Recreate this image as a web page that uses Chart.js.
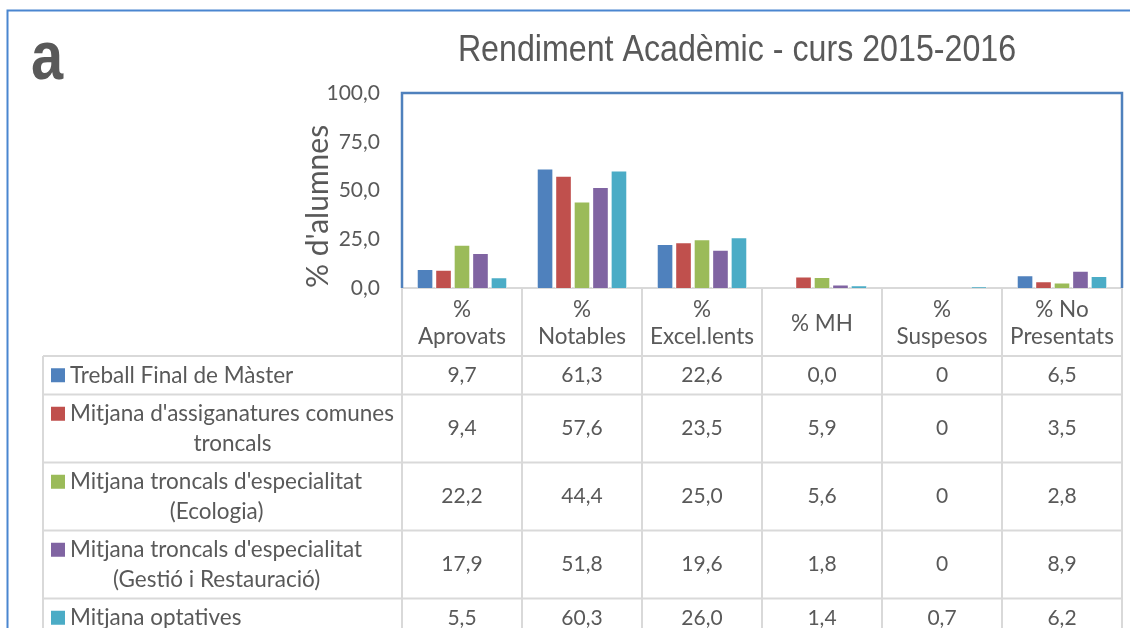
<!DOCTYPE html>
<html>
<head>
    <meta charset="utf-8">
    <title>Rendiment Acadèmic - curs 2015-2016</title>
    <script src="https://cdn.jsdelivr.net/npm/chart.js"></script>
    <style>
        html, body {
            margin: 0;
            padding: 0;
            background: #fff;
        }
    </style>
</head>
<body>
    <canvas id="rendimentChart" width="1130" height="628"></canvas>

    <script>
        const categories = [['%', 'Aprovats'], ['%', 'Notables'], ['%', 'Excel.lents'], ['% MH'], ['%', 'Suspesos'], ['% No', 'Presentats']];
        const seriesNames = [
            'Treball Final de Màster',
            "Mitjana d'assiganatures comunes troncals",
            "Mitjana troncals d'especialitat (Ecologia)",
            "Mitjana troncals d'especialitat (Gestió i Restauració)",
            'Mitjana optatives'
        ];
        const treballFinal = [9.7, 61.3, 22.6, 0.0, 0, 6.5];
        const comunesTroncals = [9.4, 57.6, 23.5, 5.9, 0, 3.5];
        const troncalsEcologia = [22.2, 44.4, 25.0, 5.6, 0, 2.8];
        const troncalsGestio = [17.9, 51.8, 19.6, 1.8, 0, 8.9];
        const optatives = [5.5, 60.3, 26.0, 1.4, 0.7, 6.2];
        const yTicks = [0, 25, 50, 75, 100];
        // decimals shown in the table per column (null = general format)
        const tableDecimals = [1, 1, 1, 1, null, 1];

        const seriesValues = [treballFinal, comunesTroncals, troncalsEcologia, troncalsGestio, optatives];
        const seriesColors = ['#4F81BD', '#C0504D', '#9BBB59', '#8064A2', '#4BACC6'];

        const textColor = '#595959';
        const labelFont = '22.5px Lato, "Open Sans", sans-serif';
        const numberFont = '21px Lato, "Open Sans", sans-serif';

        function fmt(v, col) {
            const d = tableDecimals[col];
            const s = d === null ? String(v) : v.toFixed(d);
            return s.replace('.', ',');
        }

        function wrapText(ctx, text, maxWidth) {
            const words = text.split(' ');
            const lines = [];
            let line = '';
            words.forEach(w => {
                const test = line ? line + ' ' + w : w;
                if (line && ctx.measureText(test).width > maxWidth) {
                    lines.push(line);
                    line = w;
                } else {
                    line = test;
                }
            });
            if (line) lines.push(line);
            return lines;
        }

        // Title, frames and the data table under the plot
        const tablePlugin = {
            id: 'dataTable',
            afterDraw(chart) {
                const ctx = chart.ctx;
                const area = chart.chartArea;
                const xScale = chart.scales.x;
                const W = chart.width, H = chart.height;
                const n = categories.length;
                const colW = (area.right - area.left) / n;
                const tableLeft = 43;
                const lineGap = 29.5;

                ctx.save();

                // outer frame
                ctx.strokeStyle = '#4A86D0';
                ctx.lineWidth = 2;
                ctx.beginPath();
                ctx.moveTo(7.5, H);
                ctx.lineTo(7.5, 10.5);
                ctx.lineTo(W, 10.5);
                ctx.stroke();

                ctx.fillStyle = textColor;

                // panel letter
                ctx.save();
                ctx.translate(31, 79);
                ctx.scale(0.85, 1);
                ctx.textBaseline = 'alphabetic';
                ctx.textAlign = 'left';
                ctx.font = 'bold 68px "Liberation Sans", Arial, sans-serif';
                ctx.fillText('a', 0, 0);
                ctx.restore();

                // title (narrow face emulated with a horizontal squeeze)
                ctx.save();
                ctx.translate(737, 51);
                ctx.scale(0.87, 1);
                ctx.textAlign = 'center';
                ctx.textBaseline = 'middle';
                ctx.font = '37px "Liberation Sans", Arial, sans-serif';
                ctx.fillText('Rendiment Acadèmic - curs 2015-2016', 0, 0);
                ctx.restore();

                // plot area frame (left, top, right)
                ctx.strokeStyle = '#4F81BD';
                ctx.lineWidth = 2.5;
                ctx.beginPath();
                ctx.moveTo(area.left, area.bottom);
                ctx.lineTo(area.left, area.top);
                ctx.lineTo(area.right, area.top);
                ctx.lineTo(area.right, area.bottom);
                ctx.stroke();

                // table grid
                ctx.strokeStyle = '#D9D9D9';
                ctx.lineWidth = 2;
                ctx.beginPath();
                for (let i = 0; i <= n; i++) {
                    const xx = area.left + i * colW;
                    ctx.moveTo(xx, area.bottom);
                    ctx.lineTo(xx, H);
                }
                const headerBottom = xScale.bottom;
                ctx.moveTo(tableLeft, headerBottom);
                ctx.lineTo(tableLeft, H);
                ctx.stroke();

                const labelX = 70;
                const maxLabelW = area.left - labelX;
                let rowTop = headerBottom;
                seriesNames.forEach((name, r) => {
                    ctx.font = labelFont;
                    const lines = wrapText(ctx, name, maxLabelW);
                    const rowH = 9 + lines.length * lineGap;
                    const cy = rowTop + rowH / 2;

                    ctx.strokeStyle = '#D9D9D9';
                    ctx.beginPath();
                    ctx.moveTo(tableLeft, rowTop);
                    ctx.lineTo(area.right, rowTop);
                    ctx.stroke();

                    ctx.fillStyle = textColor;
                    ctx.textBaseline = 'middle';
                    const w1 = ctx.measureText(lines[0]).width;
                    lines.forEach((ln, k) => {
                        const ly = cy + (k - (lines.length - 1) / 2) * lineGap;
                        if (k === 0) {
                            ctx.fillStyle = seriesColors[r];
                            ctx.fillRect(51, ly - 7, 14, 14);
                            ctx.fillStyle = textColor;
                            ctx.textAlign = 'left';
                            ctx.fillText(ln, labelX, ly);
                        } else {
                            ctx.textAlign = 'center';
                            ctx.fillText(ln, (51 + labelX + w1) / 2 + 10, ly);
                        }
                    });

                    ctx.font = numberFont;
                    ctx.textAlign = 'center';
                    seriesValues[r].forEach((v, c) => {
                        ctx.fillText(fmt(v, c), xScale.getPixelForValue(c), cy);
                    });

                    rowTop += rowH;
                });

                ctx.restore();
            }
        };

        const ctx = document.getElementById('rendimentChart').getContext('2d');
        new Chart(ctx, {
            type: 'bar',
            data: {
                labels: categories,
                datasets: seriesNames.map((name, i) => ({
                    label: name,
                    data: seriesValues[i],
                    backgroundColor: seriesColors[i],
                    borderColor: '#ffffff',
                    borderWidth: 1,
                    categoryPercentage: 0.77,
                    barPercentage: 0.9
                }))
            },
            options: {
                responsive: false,
                animation: false,
                layout: {
                    padding: { left: 300, right: 8, top: 93, bottom: 272 }
                },
                plugins: {
                    legend: { display: false },
                    title: { display: false },
                    tooltip: { enabled: false }
                },
                scales: {
                    x: {
                        grid: { display: false, drawTicks: false },
                        border: { color: '#D9D9D9', width: 2 },
                        ticks: {
                            color: textColor,
                            font: { family: 'Lato', size: 22.5, lineHeight: '27px' },
                            padding: 22,
                            crossAlign: 'center',
                            maxRotation: 0,
                            autoSkip: false
                        },
                        afterFit(scale) {
                            scale.height = 68;
                            scale.paddingLeft = 0;
                            scale.paddingRight = 0;
                        }
                    },
                    y: {
                        min: 0,
                        max: 100,
                        grid: { display: false, drawTicks: false },
                        border: { display: false },
                        afterBuildTicks(scale) {
                            scale.ticks = yTicks.map(v => ({ value: v }));
                        },
                        ticks: {
                            color: textColor,
                            font: { family: 'Lato', size: 21 },
                            padding: 22,
                            callback: v => v.toFixed(1).replace('.', ',')
                        },
                        title: {
                            display: true,
                            text: "% d'alumnes",
                            align: 'start',
                            color: textColor,
                            font: { family: 'Lato', size: 30 },
                            padding: 0
                        },
                        afterFit(scale) { scale.width = 102; }
                    }
                }
            },
            plugins: [tablePlugin]
        });
    </script>
</body>
</html>
